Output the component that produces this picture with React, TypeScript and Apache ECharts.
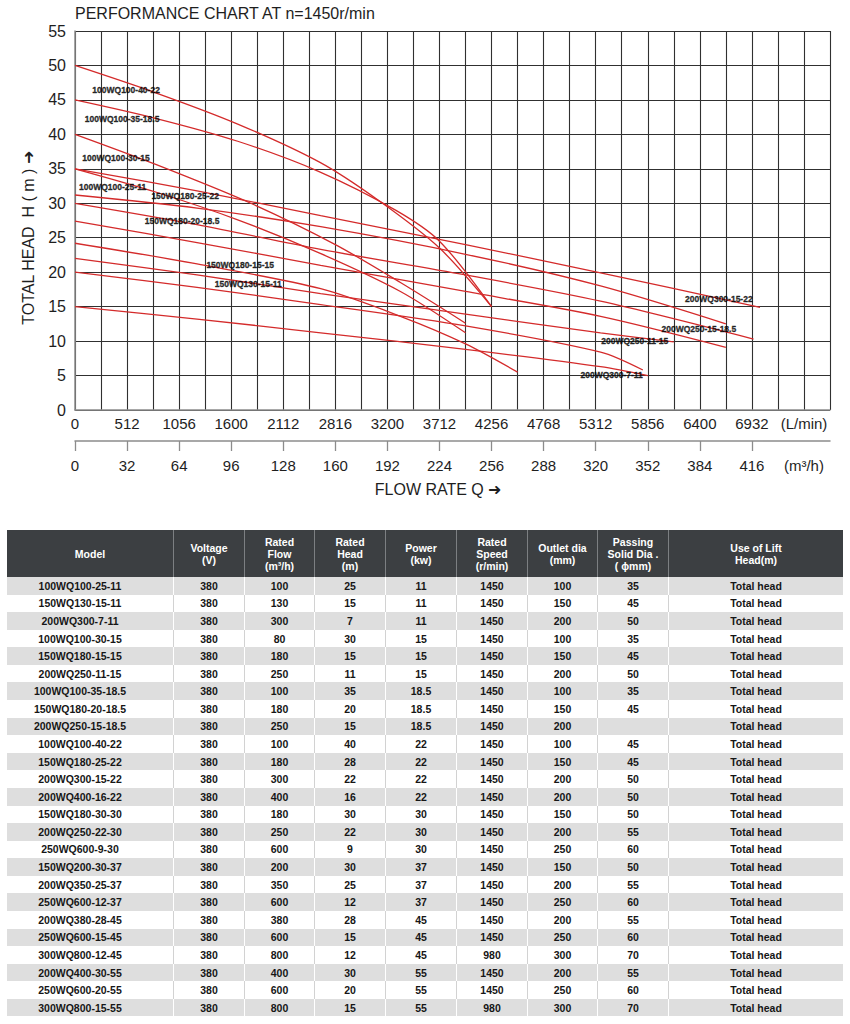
import React, { useEffect, useRef } from 'react';
import * as echarts from 'echarts';

// ---------- axes ----------
const Q_MAX = 464;
const Q_GRID_STEP = 16;
const Q_LABEL_STEP = 32;
const H_MAX = 55;
const H_STEP = 5;

const LPM_LABELS = ['0', '512', '1056', '1600', '2112', '2816', '3200', '3712', '4256', '4768', '5312', '5856', '6400', '6932'];
const LPM_UNIT = '(L/min)';
const M3H_LABELS = ['0', '32', '64', '96', '128', '160', '192', '224', '256', '288', '320', '352', '384', '416'];
const M3H_UNIT = '(m³/h)';
const TITLE = 'PERFORMANCE CHART AT n=1450r/min';
const Y_TITLE = 'TOTAL HEAD  H ( m ) ➜';
const X_TITLE = 'FLOW RATE Q ➜';

// ---------- pump curves: [Q m³/h, H m] ----------
const C_100WQ100_40_22 = [[0, 50], [50, 46], [100, 41.5], [150, 36], [186, 30.5], [224, 23.5], [256, 15]];
const C_100WQ100_35_18_5 = [[0, 45], [50, 42.3], [100, 39], [150, 34.6], [197, 29], [224, 24.5], [256, 15]];
const C_100WQ100_30_15 = [[0, 40], [50, 35.6], [108, 30], [160, 24], [200, 18.5], [240, 12.6]];
const C_100WQ100_25_11 = [[0, 35], [50, 31.6], [100, 27.6], [150, 22.8], [200, 17.2], [240, 11.2]];
const C_200WQ300_15_22 = [[0, 35], [75, 31.8], [151, 28.2], [240, 24], [323, 19.9], [421, 14.9]];
const C_150WQ180_25_22 = [[0, 31.2], [75, 29.3], [151, 26.6], [240, 22.6], [323, 18], [400, 12.5]];
const C_200WQ250_15_18_5 = [[0, 30], [75, 26.9], [151, 23.3], [240, 19.6], [323, 15.8], [417, 10.3]];
const C_150WQ180_20_18_5 = [[0, 27.4], [75, 24.3], [151, 21], [240, 17.2], [323, 13.6], [400, 9.1]];
const C_150WQ180_15_15 = [[0, 24.2], [75, 21.2], [151, 17.6], [200, 13.6], [240, 9.6], [272, 5.5]];
const C_200WQ250_11_15 = [[0, 22], [75, 19.6], [151, 16.9], [240, 13.9], [323, 11.2], [368, 9.9]];
const C_150WQ130_15_11 = [[0, 20], [75, 17.8], [151, 15.3], [240, 12.2], [323, 8.4], [349, 5.8]];
const C_200WQ300_7_11 = [[0, 15], [75, 13.2], [151, 11.2], [240, 8.8], [323, 6.3], [352, 5]];

const CURVE_NAMES = [
  '100WQ100-40-22', '100WQ100-35-18.5', '100WQ100-30-15', '100WQ100-25-11',
  '200WQ300-15-22', '150WQ180-25-22', '200WQ250-15-18.5', '150WQ180-20-18.5',
  '150WQ180-15-15', '200WQ250-11-15', '150WQ130-15-11', '200WQ300-7-11',
];
const CURVE_POINTS = [
  C_100WQ100_40_22, C_100WQ100_35_18_5, C_100WQ100_30_15, C_100WQ100_25_11,
  C_200WQ300_15_22, C_150WQ180_25_22, C_200WQ250_15_18_5, C_150WQ180_20_18_5,
  C_150WQ180_15_15, C_200WQ250_11_15, C_150WQ130_15_11, C_200WQ300_7_11,
];

// curve name labels (anchor in data coords)
const LABEL_TEXTS = [
  '100WQ100-40-22', '100WQ100-35-18.5', '100WQ100-30-15', '100WQ100-25-11',
  '150WQ180-25-22', '150WQ180-20-18.5', '150WQ180-15-15', '150WQ130-15-11',
  '200WQ300-15-22', '200WQ250-15-18.5', '200WQ250-11-15', '200WQ300-7-11',
];
const LABEL_ANCHORS = [
  [31.4, 46.4], [28.9, 42.2], [25.2, 36.6], [23.1, 32.4],
  [67.7, 31.1], [65.8, 27.4], [101.5, 21], [106.5, 18.3],
  [395.7, 16.1], [383.4, 11.8], [344, 10], [329.8, 5.1],
];

// ---------- table ----------
const HEADERS = [
  ['Model'], ['Voltage', '(V)'], ['Rated', 'Flow', '(m³/h)'], ['Rated', 'Head', '(m)'],
  ['Power', '(kw)'], ['Rated', 'Speed', '(r/min)'], ['Outlet dia', '(mm)'],
  ['Passing', 'Solid Dia .', '( ϕmm)'], ['Use of Lift', 'Head(m)'],
];
const MODELS = [
  '100WQ100-25-11', '150WQ130-15-11', '200WQ300-7-11', '100WQ100-30-15', '150WQ180-15-15',
  '200WQ250-11-15', '100WQ100-35-18.5', '150WQ180-20-18.5', '200WQ250-15-18.5', '100WQ100-40-22',
  '150WQ180-25-22', '200WQ300-15-22', '200WQ400-16-22', '150WQ180-30-30', '200WQ250-22-30',
  '250WQ600-9-30', '150WQ200-30-37', '200WQ350-25-37', '250WQ600-12-37', '200WQ380-28-45',
  '250WQ600-15-45', '300WQ800-12-45', '200WQ400-30-55', '250WQ600-20-55', '300WQ800-15-55',
];
const VOLTAGE = ['380', '380', '380', '380', '380', '380', '380', '380', '380', '380', '380', '380', '380', '380', '380', '380', '380', '380', '380', '380', '380', '380', '380', '380', '380'];
const RATED_FLOW = ['100', '130', '300', '80', '180', '250', '100', '180', '250', '100', '180', '300', '400', '180', '250', '600', '200', '350', '600', '380', '600', '800', '400', '600', '800'];
const RATED_HEAD = ['25', '15', '7', '30', '15', '11', '35', '20', '15', '40', '28', '22', '16', '30', '22', '9', '30', '25', '12', '28', '15', '12', '30', '20', '15'];
const POWER = ['11', '11', '11', '15', '15', '15', '18.5', '18.5', '18.5', '22', '22', '22', '22', '30', '30', '30', '37', '37', '37', '45', '45', '45', '55', '55', '55'];
const SPEED = ['1450', '1450', '1450', '1450', '1450', '1450', '1450', '1450', '1450', '1450', '1450', '1450', '1450', '1450', '1450', '1450', '1450', '1450', '1450', '1450', '1450', '980', '1450', '1450', '980'];
const OUTLET = ['100', '150', '200', '100', '150', '200', '100', '150', '200', '100', '150', '200', '200', '150', '200', '250', '150', '200', '250', '200', '250', '300', '200', '250', '300'];
const SOLID = ['35', '45', '50', '35', '45', '50', '35', '45', '', '45', '45', '50', '50', '50', '55', '60', '50', '55', '60', '55', '60', '70', '55', '60', '70'];
const USE = MODELS.map(() => 'Total head');

const COL_WIDTHS = [167, 71, 70, 71, 71, 71, 70, 71, 174];
const FONT = '"Liberation Sans", Arial, Helvetica, sans-serif';

function Chart() {
  const ref = useRef<HTMLDivElement>(null);
  useEffect(() => {
    if (!ref.current) return;
    const chart = echarts.init(ref.current, undefined, { renderer: 'svg' });
    const labelVals = [...M3H_LABELS.map((_, i) => i * Q_LABEL_STEP), M3H_LABELS.length * Q_LABEL_STEP];
    const tickVals = M3H_LABELS.map((_, i) => i * Q_LABEL_STEP);
    const lpmFmt = (v: number) => {
      const i = Math.round(v / Q_LABEL_STEP);
      return i < LPM_LABELS.length ? LPM_LABELS[i] : LPM_UNIT;
    };
    const m3hFmt = (v: number) => {
      const i = Math.round(v / Q_LABEL_STEP);
      return i < M3H_LABELS.length ? M3H_LABELS[i] : M3H_UNIT;
    };
    const axisLineStyle = { color: '#8c8c8c', width: 1.5 };
    const gridLine = { color: '#303030', width: 1.1 };
    const option: any = {
      animation: false,
      textStyle: { fontFamily: FONT },
      title: {
        text: TITLE,
        left: 75, top: 5, padding: 0,
        textStyle: { fontSize: 16, fontWeight: 'normal', color: '#1e1e1e', fontFamily: FONT },
      },
      grid: { left: 75, top: 31, width: 755, height: 379, show: false },
      graphic: [
        {
          type: 'text', x: 28, y: 238, rotation: Math.PI / 2, silent: true,
          style: { text: Y_TITLE, fontSize: 16, fill: '#1e1e1e', align: 'center', verticalAlign: 'middle', fontFamily: FONT },
        },
        {
          type: 'text', x: 438, y: 489, silent: true,
          style: { text: X_TITLE, fontSize: 16, fill: '#1e1e1e', align: 'center', verticalAlign: 'middle', fontFamily: FONT },
        },
      ],
      xAxis: [
        {
          type: 'value', min: 0, max: Q_MAX, interval: Q_GRID_STEP, position: 'bottom',
          axisLine: { show: true, onZero: false, lineStyle: axisLineStyle },
          axisTick: { show: false },
          splitLine: { show: true, lineStyle: gridLine },
          axisLabel: { customValues: labelVals, formatter: lpmFmt, fontSize: 15, color: '#1e1e1e', margin: 6, fontFamily: FONT },
        },
        {
          type: 'value', min: 0, max: Q_MAX, interval: Q_GRID_STEP, position: 'bottom', offset: 31,
          axisLine: { show: true, onZero: false, lineStyle: axisLineStyle },
          axisTick: { show: true, customValues: tickVals, length: 10, lineStyle: { color: '#8c8c8c', width: 1.3 } },
          splitLine: { show: false },
          axisLabel: { customValues: labelVals, formatter: m3hFmt, fontSize: 15, color: '#1e1e1e', margin: 17, fontFamily: FONT },
        },
      ],
      yAxis: {
        type: 'value', min: 0, max: H_MAX, interval: H_STEP,
        axisLine: { show: true, lineStyle: axisLineStyle },
        axisTick: { show: false },
        splitLine: { show: true, lineStyle: gridLine },
        axisLabel: { fontSize: 16, color: '#1e1e1e', margin: 9, fontFamily: FONT },
      },
      series: [
        ...CURVE_NAMES.map((n, i) => ({
          type: 'line', name: n, data: CURVE_POINTS[i], xAxisIndex: 0,
          smooth: 0.3, showSymbol: false, symbol: 'none',
          lineStyle: { color: '#d42b2b', width: 1.3 }, z: 3, silent: true,
        })),
        {
          type: 'scatter', name: 'labels', xAxisIndex: 0,
          data: LABEL_TEXTS.map((t, i) => ({ name: t, value: LABEL_ANCHORS[i] })),
          symbolSize: 0, itemStyle: { color: 'rgba(0,0,0,0)' }, z: 5, silent: true,
          label: {
            show: true, position: 'inside', formatter: '{b}', fontSize: 8.5, fontWeight: 'bold', color: '#000',
            textBorderColor: '#000', textBorderWidth: 0.35, fontFamily: FONT,
          },
        },
      ],
    };
    chart.setOption(option);
    return () => chart.dispose();
  }, []);
  return <div ref={ref} style={{ width: 850, height: 505 }} />;
}

function Table() {
  const rowH = 17.58;
  const cols = [MODELS, VOLTAGE, RATED_FLOW, RATED_HEAD, POWER, SPEED, OUTLET, SOLID, USE];
  return (
    <div style={{ position: 'absolute', left: 7, top: 530, width: 836, fontFamily: FONT }}>
      <div style={{ display: 'flex', height: 47, background: '#3c3f42' }}>
        {HEADERS.map((h, i) => (
          <div key={i} style={{
            width: COL_WIDTHS[i], boxSizing: 'border-box', display: 'flex', flexDirection: 'column',
            justifyContent: 'center', alignItems: 'center', color: '#fff', fontSize: 10.5, fontWeight: 'bold',
            lineHeight: '12px', borderRight: i < HEADERS.length - 1 ? '1px solid #7c7f82' : 'none', textAlign: 'center',
          }}>
            {h.map((l, k) => <div key={k}>{l}</div>)}
          </div>
        ))}
      </div>
      {MODELS.map((_, r) => {
        const gray = r % 2 === 0;
        return (
          <div key={r} style={{ display: 'flex', height: rowH, background: gray ? '#dedede' : '#ffffff' }}>
            {cols.map((c, i) => (
              <div key={i} style={{
                width: COL_WIDTHS[i], boxSizing: 'border-box', display: 'flex', alignItems: 'center',
                justifyContent: 'center', fontSize: 10.5, fontWeight: 'bold', color: '#161616',
                paddingRight: i === 0 ? 20 : 0,
                borderRight: i < cols.length - 1 ? (gray ? '1px solid #ffffff' : '1px solid #d2d2d2') : 'none',
              }}>
                {c[r]}
              </div>
            ))}
          </div>
        );
      })}
    </div>
  );
}

export default function App() {
  return (
    <div style={{ position: 'absolute', left: 0, top: 0, width: 850, height: 1024, background: '#fff', overflow: 'hidden' }}>
      <Chart />
      <Table />
    </div>
  );
}
